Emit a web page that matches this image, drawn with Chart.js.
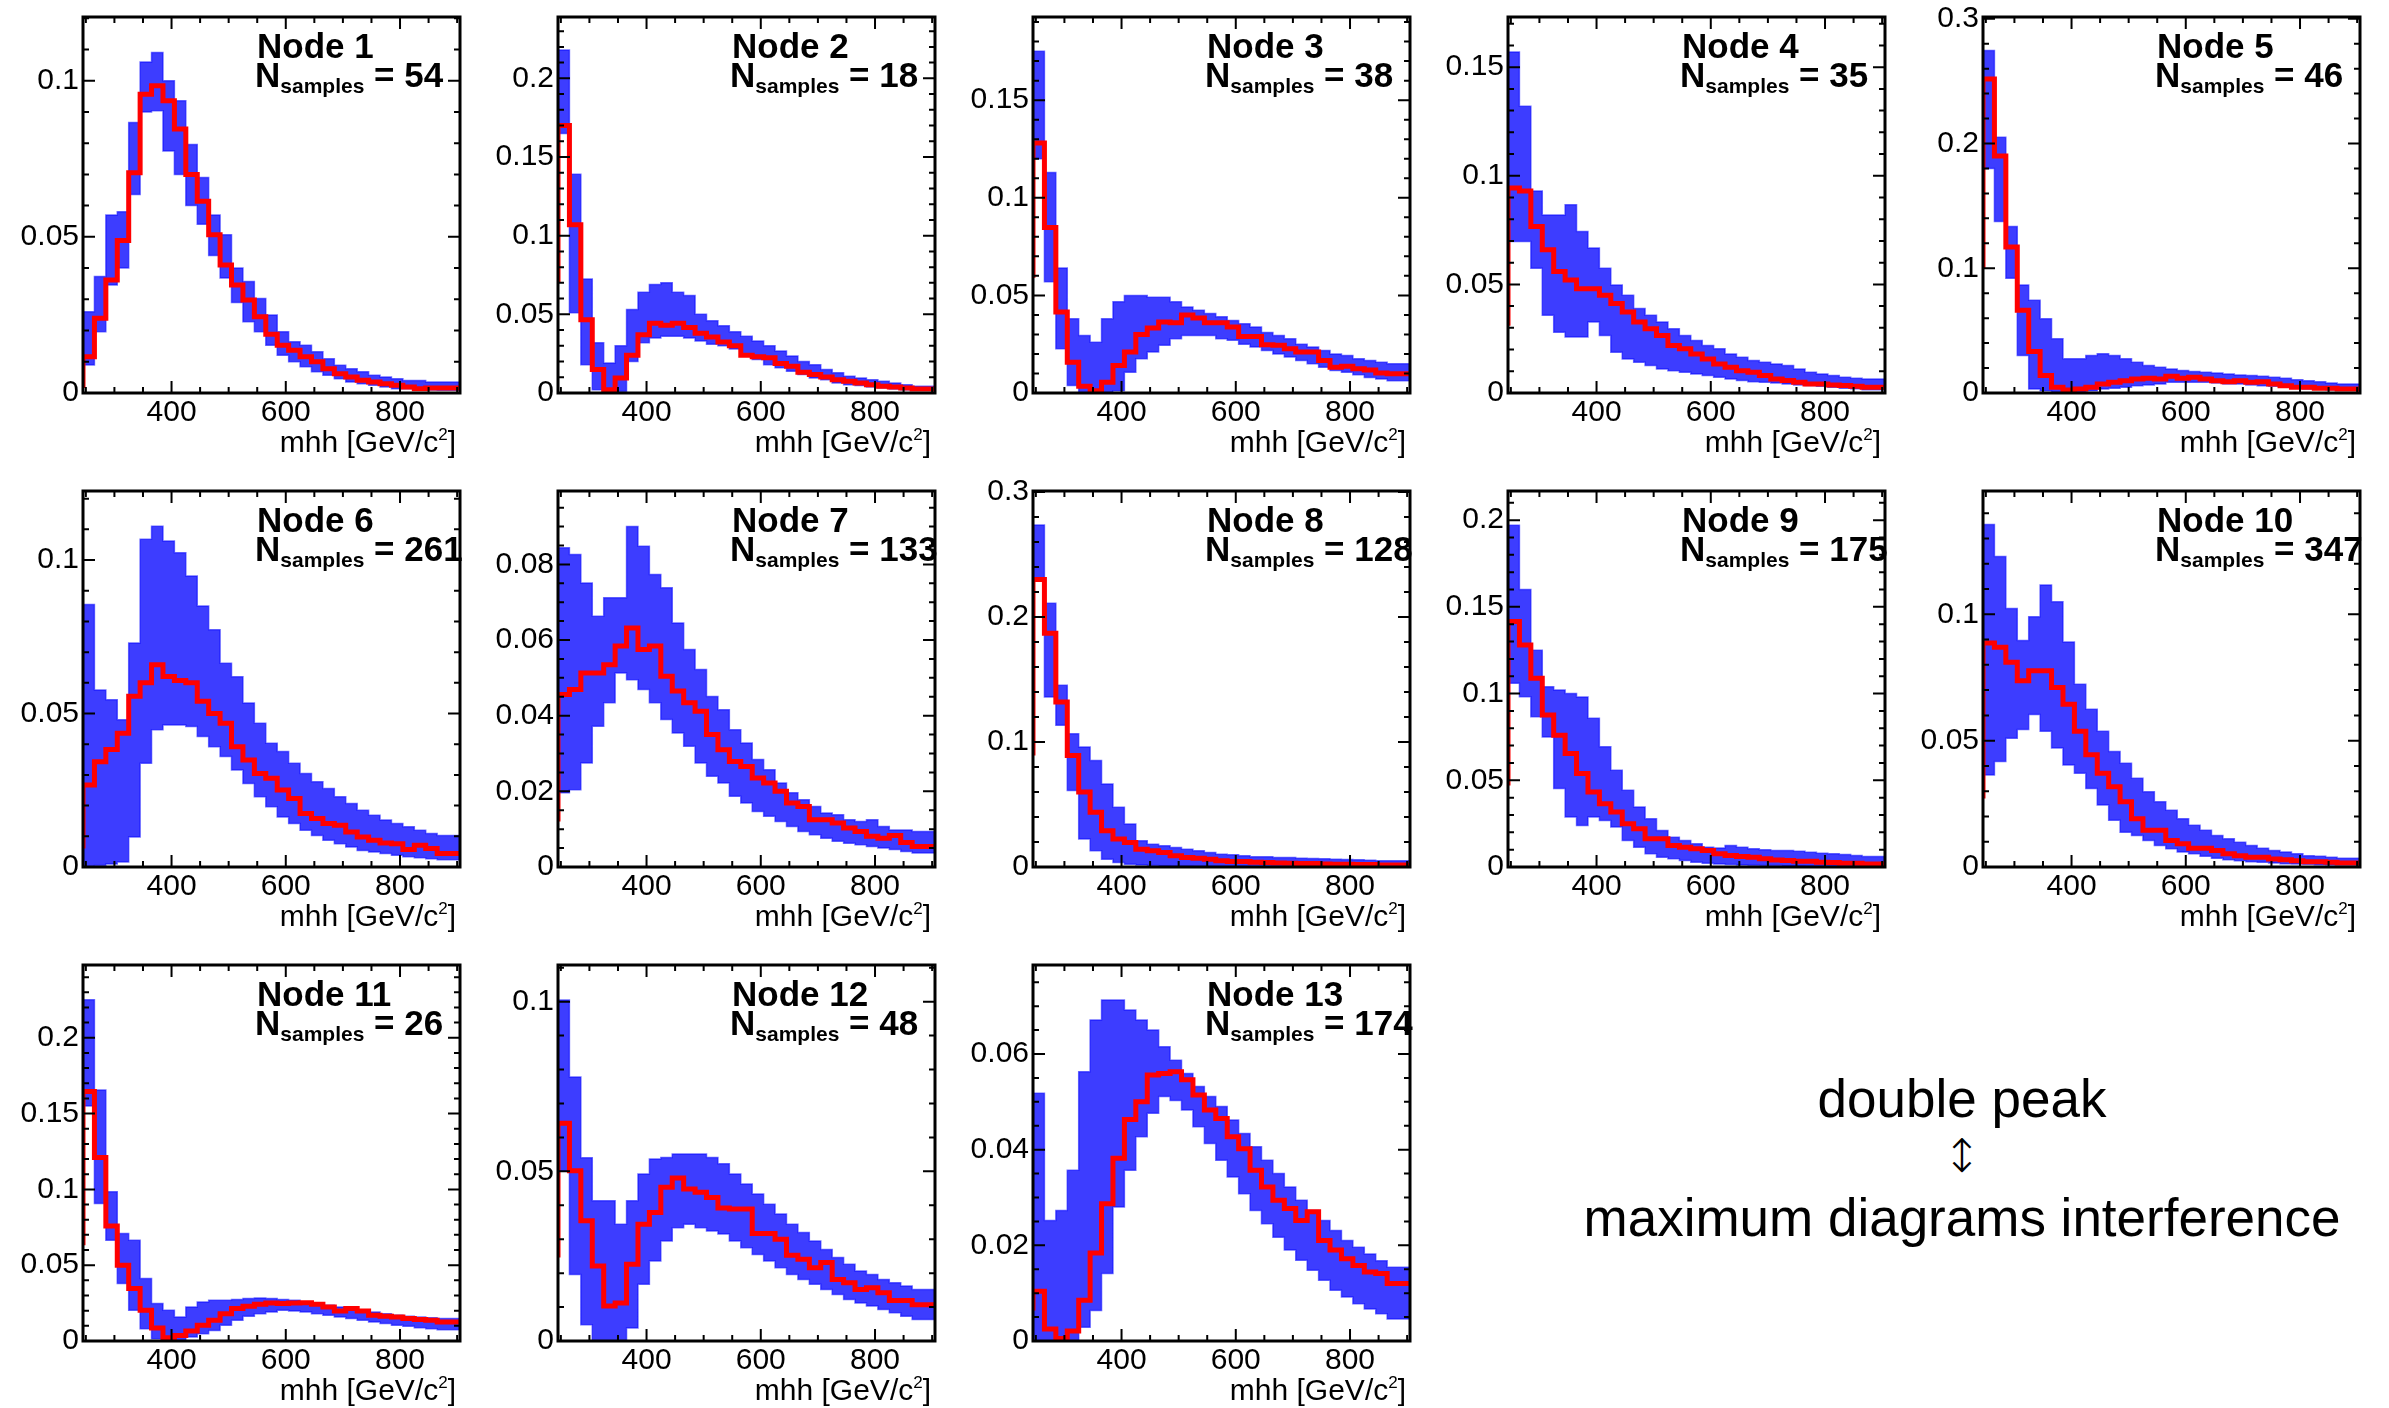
<!DOCTYPE html>
<html>
<head>
<meta charset="utf-8">
<script src="https://cdn.jsdelivr.net/npm/chart.js@4.4.1/dist/chart.umd.min.js"></script>
<style>
  body { margin: 0; background: #fff; width: 2389px; height: 1408px; position: relative; overflow: hidden; font-family: "Liberation Sans", Arial, sans-serif; }
  canvas { position: absolute; }
  .note { position: absolute; left: 1562px; width: 800px; text-align: center; font-size: 53px; line-height: 53px; color: #000; }
</style>
</head>
<body>
<div class="note" style="top:1072px">double peak</div>
<div class="note" style="top:1133px;font-family:'DejaVu Sans';font-weight:200;font-size:46px;line-height:46px">↕</div>
<div class="note" style="top:1191px">maximum diagrams interference</div>
<script>
// bin edges in mhh [GeV]
var mhhEdges = [245,265,285,305,325,345,365,385,405,425,445,465,485,505,525,545,565,585,605,625,645,665,685,705,725,745,765,785,805,825,845,865,885,905];
var xTickValues = [400, 600, 800];
var xMinorValues = [250, 300, 350, 450, 500, 550, 650, 700, 750, 850, 900];

var nodeNames = ['Node 1','Node 2','Node 3','Node 4','Node 5','Node 6','Node 7','Node 8','Node 9','Node 10','Node 11','Node 12','Node 13'];
var nSamples = [54, 18, 38, 35, 46, 261, 133, 128, 175, 347, 26, 48, 174];
var yMaxes = [0.1204, 0.239, 0.1926, 0.1731, 0.3014, 0.1225, 0.0994, 0.3008, 0.2168, 0.1488, 0.248, 0.1108, 0.0786];
var yTickValues = [
  [0, 0.05, 0.1], [0, 0.05, 0.1, 0.15, 0.2], [0, 0.05, 0.1, 0.15], [0, 0.05, 0.1, 0.15], [0, 0.1, 0.2, 0.3],
  [0, 0.05, 0.1], [0, 0.02, 0.04, 0.06, 0.08], [0, 0.1, 0.2, 0.3], [0, 0.05, 0.1, 0.15, 0.2], [0, 0.05, 0.1],
  [0, 0.05, 0.1, 0.15, 0.2], [0, 0.05, 0.1], [0, 0.02, 0.04, 0.06]
];
var yMinorSteps = [0.01, 0.01, 0.01, 0.01, 0.02, 0.01, 0.005, 0.02, 0.01, 0.01, 0.01, 0.01, 0.005];

// red = reference histogram, lo/hi = spread of the blue sample histograms
var red1 = [0.0016,0.0116,0.0239,0.0362,0.0488,0.0705,0.0957,0.0984,0.0936,0.0845,0.070,0.0614,0.0507,0.041,0.0346,0.0298,0.0244,0.0188,0.0153,0.0137,0.0116,0.010,0.0078,0.0062,0.0051,0.0041,0.0035,0.003,0.0025,0.0019,0.0014,0.0016,0.0016];
var lo1 = [0.001,0.009,0.0196,0.0346,0.040,0.0636,0.090,0.0904,0.0775,0.070,0.060,0.054,0.044,0.0368,0.029,0.0228,0.0196,0.0153,0.0121,0.010,0.0084,0.0068,0.0057,0.0046,0.0035,0.003,0.0025,0.0019,0.0014,0.0014,0.0012,0.001,0.0009];
var hi1 = [0.006,0.026,0.0373,0.057,0.058,0.0866,0.106,0.109,0.100,0.0936,0.0796,0.069,0.057,0.0507,0.040,0.0357,0.0303,0.025,0.0196,0.0164,0.0153,0.0132,0.011,0.0089,0.0078,0.0068,0.0057,0.0051,0.0046,0.004,0.004,0.0035,0.0035];

var red2 = [0.0704,0.170,0.107,0.0465,0.015,0.002,0.0096,0.024,0.037,0.0444,0.043,0.0444,0.0416,0.038,0.0356,0.0324,0.030,0.024,0.023,0.0224,0.0188,0.017,0.0132,0.0117,0.0102,0.0085,0.0075,0.0064,0.0053,0.0043,0.0038,0.0032,0.0026];
var lo2 = [0.045,0.165,0.051,0.018,0.002,0,0.001,0.020,0.032,0.035,0.036,0.036,0.035,0.033,0.031,0.030,0.028,0.0235,0.0213,0.018,0.016,0.0139,0.0117,0.0096,0.0085,0.0064,0.0053,0.0047,0.0038,0.0032,0.0026,0.0021,0.0017];
var hi2 = [0.092,0.218,0.139,0.0725,0.032,0.019,0.030,0.053,0.064,0.069,0.070,0.064,0.062,0.050,0.046,0.0427,0.039,0.036,0.033,0.030,0.0267,0.0235,0.020,0.018,0.015,0.0128,0.0107,0.0096,0.0085,0.0075,0.0064,0.0053,0.0043];

var red3 = [0.059,0.128,0.0848,0.0415,0.0158,0.0034,0.0012,0.0055,0.0141,0.021,0.030,0.0333,0.0364,0.036,0.040,0.0384,0.036,0.036,0.0338,0.029,0.029,0.0247,0.0244,0.0227,0.021,0.021,0.0166,0.0132,0.0137,0.0124,0.0118,0.0103,0.0098];
var lo3 = [0.037,0.12,0.057,0.0227,0.0038,0,0,0,0.0012,0.0106,0.0175,0.021,0.0244,0.0278,0.0295,0.0295,0.0295,0.0278,0.027,0.025,0.0235,0.0218,0.020,0.0184,0.0166,0.015,0.0132,0.0115,0.0106,0.0093,0.008,0.0072,0.0063];
var hi3 = [0.073,0.175,0.113,0.064,0.038,0.0295,0.026,0.038,0.0467,0.050,0.050,0.049,0.049,0.0467,0.044,0.0424,0.0407,0.039,0.0372,0.0355,0.0338,0.031,0.0295,0.0278,0.025,0.0235,0.0218,0.020,0.0192,0.0175,0.0166,0.0158,0.015];

var red4 = [0.031,0.0944,0.093,0.0767,0.0659,0.0559,0.052,0.048,0.048,0.045,0.0412,0.0373,0.0327,0.0296,0.0265,0.0219,0.0204,0.018,0.0157,0.0134,0.0119,0.0103,0.0096,0.008,0.0065,0.0057,0.0049,0.0042,0.0042,0.0037,0.0034,0.0031,0.0026];
var lo4 = [0.0188,0.0698,0.0698,0.0574,0.0358,0.028,0.0258,0.0258,0.0327,0.0265,0.0188,0.0157,0.0142,0.0127,0.0111,0.0103,0.0096,0.0088,0.008,0.0073,0.0065,0.0057,0.0052,0.0049,0.0046,0.0042,0.0037,0.0034,0.0031,0.0026,0.0022,0.0019,0.0015];
var hi4 = [0.0373,0.157,0.132,0.093,0.082,0.082,0.0867,0.0744,0.0667,0.0574,0.0497,0.045,0.0389,0.0358,0.0327,0.0296,0.0265,0.0242,0.0219,0.0204,0.018,0.0165,0.015,0.0142,0.0134,0.0127,0.0111,0.0096,0.0088,0.008,0.0073,0.0068,0.0065];

var red5 = [0.100,0.2517,0.190,0.117,0.0663,0.0333,0.014,0.0046,0.0024,0.0032,0.0046,0.0073,0.0086,0.0099,0.0113,0.0118,0.0113,0.0134,0.0118,0.0126,0.0113,0.0099,0.0091,0.0099,0.0086,0.0091,0.0073,0.0059,0.0046,0.0046,0.0038,0.0038,0.0032];
var lo5 = [0.0596,0.180,0.1375,0.092,0.030,0.0032,0.0019,0.0005,0.0005,0.001,0.0019,0.0032,0.0038,0.0046,0.0059,0.0064,0.0073,0.0086,0.0086,0.0086,0.0086,0.008,0.0073,0.0073,0.0064,0.0059,0.0054,0.0046,0.0038,0.0032,0.0032,0.0027,0.0024];
var hi5 = [0.108,0.2745,0.205,0.1335,0.0865,0.0744,0.0596,0.0435,0.0274,0.0274,0.030,0.0314,0.030,0.0274,0.0247,0.022,0.0207,0.0193,0.018,0.0172,0.0167,0.0161,0.0153,0.0145,0.014,0.0134,0.0126,0.0118,0.0107,0.0099,0.0091,0.008,0.0073];

var red6 = [0.006,0.0267,0.0343,0.0383,0.0436,0.0556,0.060,0.0659,0.0621,0.0608,0.060,0.054,0.050,0.0468,0.0392,0.0349,0.0305,0.0289,0.0251,0.0223,0.0174,0.0158,0.0142,0.0136,0.0114,0.0098,0.0087,0.0078,0.0076,0.0057,0.0071,0.006,0.0044];
var lo6 = [0,0,0.0005,0.001,0.0016,0.0098,0.0338,0.0447,0.0463,0.0463,0.0458,0.0425,0.0392,0.036,0.0316,0.0272,0.0229,0.0196,0.0163,0.0142,0.012,0.0103,0.0087,0.0076,0.0065,0.0054,0.0049,0.0044,0.0038,0.0033,0.003,0.0027,0.0024];
var hi6 = [0.0425,0.0855,0.0577,0.0545,0.048,0.073,0.1068,0.111,0.1062,0.1024,0.0948,0.085,0.0773,0.0664,0.062,0.0534,0.0468,0.0403,0.0376,0.0338,0.0305,0.0278,0.0256,0.0229,0.0207,0.0185,0.0169,0.0153,0.0142,0.0131,0.012,0.0109,0.0103];

var red7 = [0.012,0.0456,0.0469,0.0513,0.0513,0.0535,0.0584,0.0632,0.0575,0.0584,0.0504,0.0465,0.0434,0.0412,0.035,0.031,0.0279,0.0266,0.0235,0.0222,0.020,0.0169,0.016,0.0125,0.0125,0.0116,0.0103,0.0094,0.0081,0.0076,0.0083,0.0065,0.0054];
var lo7 = [0.0046,0.0196,0.0204,0.0275,0.0372,0.0434,0.0513,0.0495,0.0469,0.0434,0.039,0.0354,0.0319,0.0275,0.024,0.0222,0.0187,0.0169,0.0147,0.0134,0.012,0.0107,0.0094,0.0085,0.0076,0.0068,0.0063,0.0059,0.0054,0.005,0.0046,0.0041,0.0037];
var hi7 = [0.0293,0.0844,0.0826,0.0751,0.0663,0.0712,0.0712,0.090,0.0848,0.0773,0.0738,0.0645,0.0575,0.0522,0.0451,0.0416,0.0363,0.0328,0.0284,0.0257,0.0222,0.0196,0.0178,0.016,0.0143,0.0138,0.0125,0.012,0.0125,0.0107,0.0098,0.0098,0.0094];

var red8 = [0.0893,0.230,0.187,0.132,0.0893,0.060,0.0438,0.029,0.0224,0.0197,0.0143,0.013,0.0116,0.009,0.0076,0.0071,0.0063,0.005,0.0044,0.0044,0.0039,0.0036,0.0033,0.0031,0.0028,0.0028,0.0025,0.0023,0.0023,0.002,0.002,0.0017,0.0017];
var lo8 = [0.0545,0.230,0.136,0.1134,0.0612,0.0224,0.013,0.0063,0.0036,0.0023,0.0017,0.0012,0.0009,0.0007,0.0007,0.0004,0.0004,0.0004,0.0004,0.0004,0.0001,0.0001,0.0001,0.0001,0.0001,0.0001,0.0001,0.0001,0.0001,0.0001,0.0001,0.0001,0.0001];
var hi8 = [0.1067,0.2737,0.211,0.1455,0.1067,0.096,0.0853,0.0665,0.0478,0.0344,0.021,0.0183,0.017,0.0157,0.0143,0.013,0.0116,0.0103,0.0098,0.009,0.0082,0.0082,0.0076,0.0076,0.0071,0.0068,0.0066,0.0063,0.006,0.0058,0.0055,0.005,0.005];

var red9 = [0.047,0.1416,0.128,0.1088,0.0876,0.076,0.0654,0.0539,0.0433,0.0365,0.0317,0.0249,0.0221,0.0163,0.0163,0.0124,0.0114,0.0105,0.0095,0.0076,0.0066,0.006,0.0056,0.0047,0.0041,0.0037,0.0033,0.0033,0.0028,0.0026,0.0022,0.0022,0.0018];
var lo9 = [0.0317,0.106,0.0982,0.0867,0.075,0.0452,0.0288,0.024,0.0288,0.0268,0.023,0.0153,0.0114,0.0076,0.0056,0.0047,0.0037,0.0028,0.0022,0.0018,0.0014,0.0012,0.001,0.0008,0.0008,0.0006,0.0006,0.0004,0.0004,0.0004,0.0003,0.0003,0.0003];
var hi9 = [0.0645,0.197,0.16,0.125,0.104,0.102,0.100,0.098,0.0857,0.0693,0.0558,0.0442,0.0346,0.0278,0.0211,0.0172,0.0153,0.0134,0.0114,0.011,0.0124,0.0114,0.0105,0.0099,0.0095,0.0095,0.0091,0.0085,0.008,0.0076,0.0072,0.0066,0.006];

var red10 = [0.0271,0.0886,0.087,0.081,0.0737,0.0777,0.0777,0.071,0.0644,0.0537,0.0444,0.0371,0.0318,0.0258,0.0191,0.0145,0.0145,0.0105,0.0092,0.0074,0.0074,0.0065,0.0052,0.0045,0.0039,0.0039,0.0032,0.0029,0.0025,0.0021,0.0021,0.0019,0.0016];
var lo10 = [0.0078,0.0364,0.0418,0.051,0.0544,0.0604,0.0537,0.0471,0.0404,0.0371,0.0311,0.0245,0.0185,0.0138,0.0125,0.0105,0.0085,0.0072,0.0059,0.0052,0.0043,0.0035,0.0029,0.0025,0.0021,0.0019,0.0016,0.0013,0.0012,0.0011,0.0009,0.0008,0.0008];
var hi10 = [0.0497,0.1355,0.1229,0.1023,0.0896,0.099,0.1116,0.105,0.089,0.0723,0.0624,0.0537,0.0457,0.0411,0.0351,0.0298,0.0258,0.0225,0.0191,0.0165,0.0145,0.0125,0.0112,0.0098,0.0085,0.0074,0.0065,0.0059,0.0052,0.0045,0.0043,0.0039,0.0035];

var red11 = [0.0632,0.1645,0.121,0.0758,0.050,0.0346,0.0203,0.0086,0.0022,0.0037,0.0066,0.0104,0.0137,0.018,0.0214,0.0229,0.0242,0.0251,0.0247,0.0251,0.0253,0.0242,0.0225,0.0198,0.0214,0.0198,0.017,0.0163,0.0159,0.0148,0.0141,0.0137,0.0126];
var lo11 = [0.038,0.155,0.0907,0.0665,0.0379,0.0203,0.0081,0.0015,0.0004,0.0004,0.0026,0.0048,0.007,0.0104,0.0137,0.0163,0.018,0.0192,0.0203,0.0198,0.0192,0.018,0.017,0.0159,0.0148,0.0137,0.0126,0.0115,0.0104,0.0097,0.0088,0.0081,0.0075];
var hi11 = [0.093,0.225,0.1656,0.0985,0.0709,0.0665,0.0412,0.0247,0.0203,0.0159,0.0225,0.0258,0.0269,0.0269,0.0273,0.028,0.0284,0.028,0.0273,0.0269,0.0258,0.0247,0.0236,0.0225,0.0214,0.0203,0.0192,0.018,0.017,0.0163,0.0159,0.0154,0.0148];

var red12 = [0.0246,0.0642,0.0502,0.0354,0.0221,0.0103,0.0112,0.0226,0.0344,0.0379,0.0453,0.048,0.0448,0.0438,0.0423,0.0392,0.0389,0.0389,0.0317,0.0317,0.030,0.0253,0.0241,0.0216,0.0231,0.0181,0.0172,0.0152,0.0157,0.0142,0.0119,0.0119,0.0107];
var lo12 = [0.0058,0.050,0.0196,0.0048,0,0,0,0.0038,0.0167,0.0236,0.0295,0.0334,0.0344,0.0334,0.0324,0.0315,0.0295,0.0275,0.0255,0.0236,0.0216,0.0196,0.0181,0.0167,0.0152,0.0137,0.0122,0.0112,0.0103,0.0093,0.0083,0.0073,0.0063];
var hi12 = [0.0324,0.1005,0.0778,0.054,0.0413,0.0413,0.0344,0.0413,0.0492,0.0536,0.0541,0.0551,0.0551,0.0551,0.0541,0.0522,0.0492,0.0463,0.0433,0.0403,0.0374,0.0344,0.032,0.0295,0.027,0.0246,0.0226,0.0206,0.0196,0.0181,0.0172,0.0162,0.0152];

var red13 = [0.0064,0.0104,0.0025,0.0005,0.0021,0.0085,0.0184,0.0287,0.0382,0.0463,0.050,0.0556,0.0559,0.0563,0.0546,0.0514,0.0483,0.0465,0.0427,0.0402,0.0357,0.0322,0.0294,0.0277,0.0252,0.027,0.021,0.019,0.0172,0.0158,0.0144,0.0141,0.012];
var lo13 = [0,0,0,0,0,0.0029,0.0064,0.0141,0.028,0.0357,0.0427,0.0476,0.0511,0.0503,0.0483,0.0448,0.0413,0.0378,0.0343,0.0308,0.0273,0.0245,0.0217,0.019,0.0169,0.0148,0.0127,0.0106,0.0092,0.0078,0.0067,0.0057,0.0046];
var hi13 = [0.0224,0.0518,0.0252,0.0273,0.0357,0.0563,0.0671,0.0713,0.0713,0.0692,0.0671,0.065,0.0615,0.0587,0.0559,0.0532,0.0511,0.049,0.0462,0.0434,0.0406,0.0378,0.035,0.0322,0.0294,0.0273,0.0252,0.0231,0.021,0.0196,0.0182,0.0168,0.0154];

var redList = [red1, red2, red3, red4, red5, red6, red7, red8, red9, red10, red11, red12, red13];
var loList = [lo1, lo2, lo3, lo4, lo5, lo6, lo7, lo8, lo9, lo10, lo11, lo12, lo13];
var hiList = [hi1, hi2, hi3, hi4, hi5, hi6, hi7, hi8, hi9, hi10, hi11, hi12, hi13];

var FONT = '"Liberation Sans", Arial, sans-serif';

// turn bin contents into points for a stepped line
function histPoints(vals) {
  var pts = vals.map(function(v, i) { return { x: mhhEdges[i], y: v }; });
  pts.push({ x: mhhEdges[vals.length], y: vals[vals.length - 1] });
  return pts;
}

// ROOT style frame: thick box, inward ticks on all sides, labels
var rootFrame = {
  id: 'rootFrame',
  afterDatasetsDraw: function(chart, args, opts) {
    var p = opts.panel;
    var ctx = chart.ctx, a = chart.chartArea;
    var xs = chart.scales.x, ys = chart.scales.y;
    ctx.save();
    ctx.strokeStyle = '#000';
    ctx.lineWidth = 2;
    ctx.beginPath();
    xTickValues.forEach(function(v) {
      var px = xs.getPixelForValue(v);
      ctx.moveTo(px, a.bottom); ctx.lineTo(px, a.bottom - 12);
      ctx.moveTo(px, a.top); ctx.lineTo(px, a.top + 12);
    });
    xMinorValues.forEach(function(v) {
      var px = xs.getPixelForValue(v);
      ctx.moveTo(px, a.bottom); ctx.lineTo(px, a.bottom - 6);
      ctx.moveTo(px, a.top); ctx.lineTo(px, a.top + 6);
    });
    yTickValues[p].forEach(function(v) {
      var py = ys.getPixelForValue(v);
      ctx.moveTo(a.left, py); ctx.lineTo(a.left + 12, py);
      ctx.moveTo(a.right, py); ctx.lineTo(a.right - 12, py);
    });
    var step = yMinorSteps[p];
    for (var k = 1; k * step < yMaxes[p]; k++) {
      var py2 = ys.getPixelForValue(k * step);
      ctx.moveTo(a.left, py2); ctx.lineTo(a.left + 6, py2);
      ctx.moveTo(a.right, py2); ctx.lineTo(a.right - 6, py2);
    }
    ctx.stroke();
    ctx.lineWidth = 3;
    ctx.strokeRect(a.left, a.top, a.right - a.left, a.bottom - a.top);

    // node label
    ctx.fillStyle = '#000';
    ctx.textAlign = 'left';
    ctx.textBaseline = 'alphabetic';
    ctx.font = 'bold 35px ' + FONT;
    ctx.fillText(nodeNames[p], a.left + 174, a.top + 41);
    var x0 = a.left + 172;
    ctx.fillText('N', x0, a.top + 70);
    x0 += ctx.measureText('N').width;
    ctx.font = 'bold 21px ' + FONT;
    ctx.fillText('samples', x0, a.top + 76);
    x0 += ctx.measureText('samples').width;
    ctx.font = 'bold 35px ' + FONT;
    ctx.fillText(' = ' + nSamples[p], x0, a.top + 70);

    // axis title, right aligned
    var xr = a.right - 4, base = a.bottom + 59;
    ctx.textAlign = 'right';
    ctx.font = '30px ' + FONT;
    ctx.fillText(']', xr, base);
    xr -= ctx.measureText(']').width;
    ctx.font = '17px ' + FONT;
    ctx.fillText('2', xr, base - 12);
    xr -= ctx.measureText('2').width;
    ctx.font = '30px ' + FONT;
    ctx.fillText('mhh [GeV/c', xr, base);
    ctx.restore();
  }
};

function fmt(v) { return String(+v.toFixed(3)); }

for (var p = 0; p < 13; p++) {
  var col = p % 5, row = Math.floor(p / 5);
  var cv = document.createElement('canvas');
  cv.width = 475; cv.height = 474;
  cv.style.left = (475 * col) + 'px';
  cv.style.top = (474 * row) + 'px';
  document.body.appendChild(cv);

  (function(p) {
    // Chart.js paints the first dataset on top, so red goes first
    new Chart(cv, {
      type: 'line',
      data: {
        datasets: [
          { data: histPoints(redList[p]), stepped: 'after', borderColor: '#ff0000', borderWidth: 5, pointRadius: 0, fill: false },
          { data: histPoints(loList[p]), stepped: 'after', borderColor: 'rgba(0,0,255,0.55)', borderWidth: 1.5, pointRadius: 0, fill: false },
          { data: histPoints(hiList[p]), stepped: 'after', borderColor: 'rgba(0,0,255,0.55)', borderWidth: 1.5, pointRadius: 0, fill: '-1', backgroundColor: 'rgba(0,0,255,0.76)' }
        ]
      },
      options: {
        responsive: false,
        animation: false,
        events: [],
        layout: { padding: { top: 17, right: 15, left: 0, bottom: 0 } },
        plugins: { legend: { display: false }, tooltip: { enabled: false }, rootFrame: { panel: p } },
        scales: {
          x: {
            type: 'linear', min: 245, max: 905,
            grid: { display: false, drawTicks: false }, border: { display: false },
            afterBuildTicks: function(s) { s.ticks = xTickValues.map(function(v) { return { value: v }; }); },
            afterFit: function(s) { s.height = 81; s.paddingLeft = 0; s.paddingRight = 0; },
            ticks: { color: '#000', font: { family: FONT, size: 30 }, padding: 2, maxRotation: 0, autoSkip: false }
          },
          y: {
            type: 'linear', min: 0, max: yMaxes[p],
            grid: { display: false, drawTicks: false }, border: { display: false },
            afterBuildTicks: function(s) { s.ticks = yTickValues[p].map(function(v) { return { value: v }; }); },
            afterFit: function(s) { s.width = 83; s.paddingTop = 0; s.paddingBottom = 0; },
            ticks: { color: '#000', font: { family: FONT, size: 30 }, padding: 4, autoSkip: false, callback: function(v) { return fmt(v); } }
          }
        }
      },
      plugins: [rootFrame]
    });
  })(p);
}
</script>
</body>
</html>
